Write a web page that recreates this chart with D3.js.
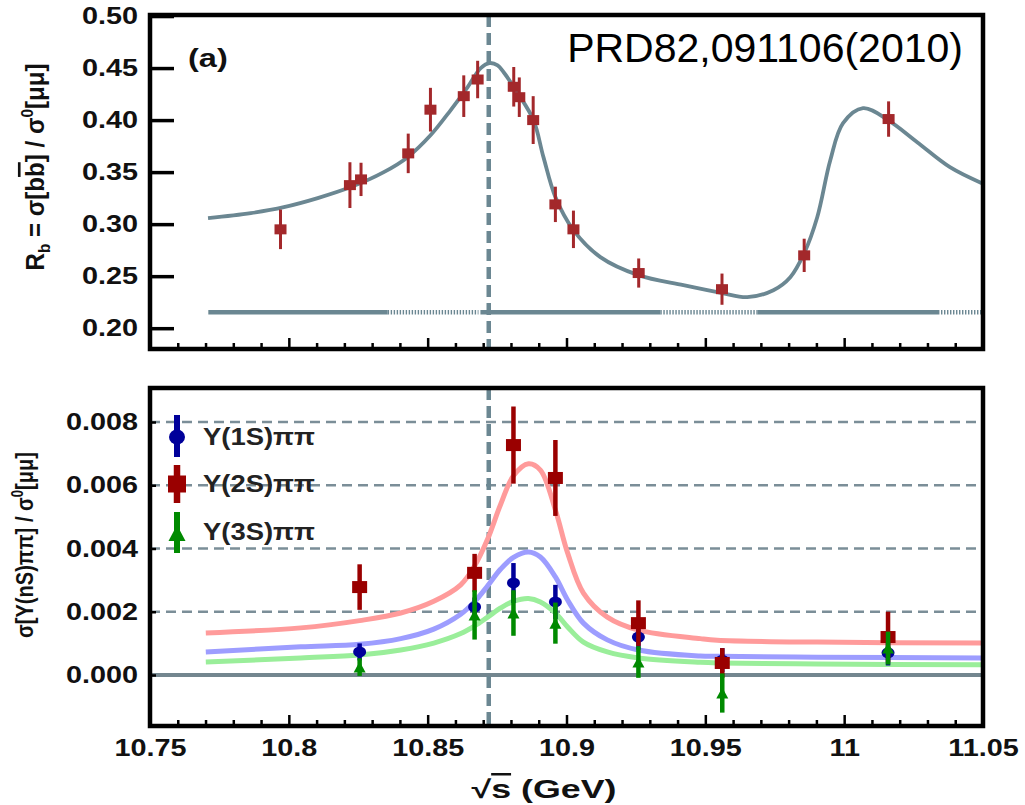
<!DOCTYPE html>
<html>
<head>
<meta charset="utf-8">
<script src="https://cdnjs.cloudflare.com/ajax/libs/d3/7.8.5/d3.min.js"></script>
<style>
  html, body { margin: 0; padding: 0; background: #fff; }
  svg { display: block; }
</style>
</head>
<body>
<svg id="chart" width="1025" height="805"></svg>
<script>
// ---------------- data ----------------
// shared energy axis
const xTickValues = [10.75, 10.8, 10.85, 10.9, 10.95, 11.0, 11.05];
const xTickLabels = ["10.75", "10.8", "10.85", "10.9", "10.95", "11", "11.05"];

// (a) R_b scan
const rbTickValues = [0.20, 0.25, 0.30, 0.35, 0.40, 0.45, 0.50];
const rbTickLabels = ["0.20", "0.25", "0.30", "0.35", "0.40", "0.45", "0.50"];
const rbEnergy = [10.797, 10.822, 10.826, 10.843, 10.851, 10.863, 10.868, 10.881, 10.883, 10.888, 10.896, 10.9025, 10.926, 10.956, 10.9856, 11.016];
const rbValue  = [0.295, 0.3375, 0.343, 0.368, 0.410, 0.423, 0.439, 0.432, 0.422, 0.400, 0.319, 0.295, 0.253, 0.2375, 0.270, 0.401];
const rbError  = [0.019, 0.022, 0.016, 0.019, 0.021, 0.020, 0.018, 0.019, 0.019, 0.023, 0.017, 0.018, 0.014, 0.015, 0.016, 0.017];

// fitted R_b line shape
const rbFitEnergy = [10.7709, 10.7863, 10.7982, 10.8104, 10.8223, 10.8342, 10.8428, 10.8511, 10.8583, 10.8644, 10.8691, 10.8723, 10.8752, 10.8773, 10.8824, 10.8881, 10.8917, 10.8960, 10.9025, 10.9122, 10.9259, 10.9421, 10.9561, 10.9651, 10.9745, 10.9806, 10.9856, 10.9903, 10.9950, 10.9996, 11.0068, 11.0158, 11.0263, 11.0381, 11.0496];
const rbFitValue  = [0.3058, 0.3106, 0.3163, 0.3250, 0.3356, 0.3500, 0.3644, 0.3856, 0.4096, 0.4317, 0.4500, 0.4548, 0.4525, 0.4462, 0.4260, 0.4000, 0.3644, 0.3260, 0.2942, 0.2683, 0.2510, 0.2413, 0.2337, 0.2298, 0.2365, 0.2490, 0.2721, 0.3067, 0.3615, 0.3971, 0.4115, 0.4000, 0.3788, 0.3548, 0.3394];

// continuum level with scanned (solid) and unscanned (dotted) ranges
const scanLevel = 0.2154;
const scanSolid  = [[10.771, 10.8356], [10.869, 10.9338], [10.9687, 11.0338]];
const scanDotted = [[10.8356, 10.8683], [10.9338, 10.9687], [11.0338, 11.05]];

// Y(10860) peak position
const peakEnergy = 10.872;

// (b) Y(nS)pipi cross sections
const ppTickValues = [0.000, 0.002, 0.004, 0.006, 0.008];
const ppTickLabels = ["0.000", "0.002", "0.004", "0.006", "0.008"];
const ppEnergy = [10.8255, 10.8669, 10.8809, 10.8960, 10.9259, 10.9561, 11.0158];
const y1sValue = [0.00073, 0.00215, 0.00291, 0.00231, 0.00120, 0.00047, 0.00070];
const y1sError = [0.00027, 0.00030, 0.00063, 0.00054, 0.00040, 0.00038, 0.00040];
const y2sValue = [0.00278, 0.00323, 0.00727, 0.00623, 0.00164, 0.00038, 0.00120];
const y2sError = [0.00072, 0.00060, 0.00122, 0.00120, 0.00072, 0.00047, 0.00080];
const y3sValue = [0.00025, 0.00190, 0.00196, 0.00164, 0.00041, -0.00057, 0.00085];
const y3sError = [0.00028, 0.00078, 0.00072, 0.00065, 0.00050, 0.00062, 0.00052];

// fitted Y(nS)pipi line shapes
const ppFitEnergy = [10.7701, 10.8043, 10.8255, 10.8403, 10.8522, 10.8619, 10.8669, 10.8716, 10.8763, 10.8809, 10.8863, 10.8906, 10.8960, 10.9004, 10.9061, 10.9147, 10.9259, 10.9482, 10.9543, 10.9903, 11.05];
const y1sFit = [0.00073, 0.00089, 0.00097, 0.00115, 0.00145, 0.00192, 0.00232, 0.00282, 0.00335, 0.00372, 0.00389, 0.00373, 0.00310, 0.00237, 0.00164, 0.00111, 0.00079, 0.00060, 0.00059, 0.00056, 0.00054];
const y2sFit = [0.00133, 0.00149, 0.00172, 0.00196, 0.00233, 0.00285, 0.00345, 0.00430, 0.00540, 0.00630, 0.00668, 0.00648, 0.00522, 0.00386, 0.00259, 0.00183, 0.00142, 0.00115, 0.00110, 0.00104, 0.00101];
const y3sFit = [0.00041, 0.00054, 0.00063, 0.00079, 0.00101, 0.00131, 0.00155, 0.00183, 0.00212, 0.00233, 0.00242, 0.00231, 0.00196, 0.00152, 0.00104, 0.00073, 0.00054, 0.00040, 0.00038, 0.00035, 0.00032];

const legendLabels = ["\u03A5(1S)\u03C0\u03C0", "\u03A5(2S)\u03C0\u03C0", "\u03A5(3S)\u03C0\u03C0"];

// ---------------- layout & style ----------------
const FONT = "'Liberation Sans', Arial, Helvetica, sans-serif";
const SX = 1.2;               // horizontal stretch of the bold labels
const X0 = 150, X1 = 983;
const TOP = { y0: 15, y1: 349 };
const BOT = { y0: 388, y1: 726 };
const SLATE = "#6b8792";

const svg = d3.select("#chart");

const x = d3.scaleLinear().domain([10.75, 11.05]).range([X0, X1]);
const yTop = d3.scaleLinear().domain([0.18, 0.501]).range([TOP.y1, TOP.y0]);
const yBot = d3.scaleLinear().domain([-0.001613, 0.009075]).range([BOT.y1, BOT.y0]);

const minorTicks = d3.range(0, 31).map(i => 10.75 + i * 0.01)
  .filter(v => xTickValues.every(m => Math.abs(m - v) > 1e-6));

// clip regions for each panel
const defs = svg.append("defs");
defs.append("clipPath").attr("id", "clipTop").append("rect")
  .attr("x", X0).attr("y", TOP.y0).attr("width", X1 - X0).attr("height", TOP.y1 - TOP.y0);
defs.append("clipPath").attr("id", "clipBot").append("rect")
  .attr("x", X0).attr("y", BOT.y0).attr("width", X1 - X0).attr("height", BOT.y1 - BOT.y0);

function styleTickText(sel, size) {
  sel.attr("font-family", FONT).attr("font-weight", "bold").attr("font-size", size)
     .attr("fill", "#111").attr("transform", `scale(${SX},1)`);
}

function xTicks(yPos, withLabels) {
  const gMinor = svg.append("g").attr("transform", `translate(0,${yPos})`)
    .call(d3.axisBottom(x).tickValues(minorTicks).tickFormat("").tickSizeInner(-6).tickSizeOuter(0));
  gMinor.select(".domain").remove();
  gMinor.selectAll("line").attr("stroke", "#000").attr("stroke-width", 2.5);
  const gMajor = svg.append("g").attr("transform", `translate(0,${yPos})`)
    .call(d3.axisBottom(x).tickValues(xTickValues)
      .tickFormat((d, i) => withLabels ? xTickLabels[i] : "")
      .tickSizeInner(-11).tickSizeOuter(0).tickPadding(13));
  gMajor.select(".domain").remove();
  gMajor.selectAll("line").attr("stroke", "#000").attr("stroke-width", 2.5);
  styleTickText(gMajor.selectAll("text"), 24);
}

// ================= panel (a) =================
const gTop = svg.append("g").attr("clip-path", "url(#clipTop)");

// continuum level
gTop.selectAll("line.solid").data(scanSolid).join("line").attr("class", "solid")
  .attr("x1", d => x(d[0])).attr("x2", d => x(d[1]))
  .attr("y1", yTop(scanLevel)).attr("y2", yTop(scanLevel))
  .attr("stroke", SLATE).attr("stroke-width", 4.5);
gTop.selectAll("line.dotted").data(scanDotted).join("line").attr("class", "dotted")
  .attr("x1", d => x(d[0])).attr("x2", d => x(d[1]))
  .attr("y1", yTop(scanLevel)).attr("y2", yTop(scanLevel))
  .attr("stroke", SLATE).attr("stroke-width", 4.5).attr("stroke-dasharray", "1.4,1.6");

// fit curve
const rbFit = rbFitEnergy.map((e, i) => [e, rbFitValue[i]]);
gTop.append("path").datum(rbFit)
  .attr("d", d3.line().x(d => x(d[0])).y(d => yTop(d[1])).curve(d3.curveCatmullRom.alpha(0.5)))
  .attr("fill", "none").attr("stroke", SLATE).attr("stroke-width", 3.8);

// peak marker
gTop.append("line")
  .attr("x1", x(peakEnergy)).attr("x2", x(peakEnergy))
  .attr("y1", TOP.y0).attr("y2", TOP.y1)
  .attr("stroke", SLATE).attr("stroke-width", 4.5).attr("stroke-dasharray", "12,6");

// data points
const rbPts = rbEnergy.map((e, i) => ({ e, v: rbValue[i], err: rbError[i] }));
const RB_RED = "#a3282b";
gTop.selectAll("line.err").data(rbPts).join("line").attr("class", "err")
  .attr("x1", d => x(d.e)).attr("x2", d => x(d.e))
  .attr("y1", d => yTop(d.v + d.err)).attr("y2", d => yTop(d.v - d.err))
  .attr("stroke", RB_RED).attr("stroke-width", 3);
gTop.selectAll("rect.pt").data(rbPts).join("rect").attr("class", "pt")
  .attr("x", d => x(d.e) - 6).attr("y", d => yTop(d.v) - 5)
  .attr("width", 12).attr("height", 10).attr("fill", RB_RED);

// axes of (a)
const gyTop = svg.append("g").attr("transform", `translate(${X0},0)`)
  .call(d3.axisLeft(yTop).tickValues(rbTickValues).tickFormat((d, i) => rbTickLabels[i])
    .tickSizeInner(-24).tickSizeOuter(0).tickPadding(10));
gyTop.select(".domain").remove();
gyTop.selectAll("line").attr("stroke", "#000").attr("stroke-width", 3.5);
styleTickText(gyTop.selectAll("text"), 24);
xTicks(TOP.y1, false);

svg.append("rect").attr("x", X0).attr("y", TOP.y0)
  .attr("width", X1 - X0).attr("height", TOP.y1 - TOP.y0)
  .attr("fill", "none").attr("stroke", "#000").attr("stroke-width", 4.5);

svg.append("text").attr("transform", `translate(188,67) scale(1.3,1)`)
  .attr("font-family", FONT).attr("font-weight", "bold").attr("font-size", 25)
  .attr("fill", "#111").text("(a)");

svg.append("text").attr("x", 963).attr("y", 62).attr("text-anchor", "end")
  .attr("font-family", FONT).attr("font-size", 41).attr("fill", "#000")
  .text("PRD82,091106(2010)");

// y title of (a)
const tTop = svg.append("text")
  .attr("transform", `translate(44,167) scale(${SX},1) rotate(-90)`)
  .attr("text-anchor", "middle").attr("font-family", FONT).attr("font-weight", "bold")
  .attr("font-size", 22).attr("fill", "#111")
  .attr("textLength", 207).attr("lengthAdjust", "spacingAndGlyphs");
tTop.append("tspan").text("R");
tTop.append("tspan").attr("font-size", 14).attr("dy", 5).text("b");
tTop.append("tspan").attr("dy", -5).text(" = \u03C3[b");
tTop.append("tspan").style("text-decoration", "overline").text("b");
tTop.append("tspan").text("] / \u03C3");
tTop.append("tspan").attr("font-size", 14).attr("dy", -9).text("0");
tTop.append("tspan").attr("dy", 9).text("[\u03BC\u03BC]");

// ================= panel (b) =================
const gBot = svg.append("g").attr("clip-path", "url(#clipBot)");

// dashed grid
gBot.selectAll("line.grid").data(ppTickValues.filter(v => v > 0)).join("line").attr("class", "grid")
  .attr("x1", X0).attr("x2", X1)
  .attr("y1", d => yBot(d)).attr("y2", d => yBot(d))
  .attr("stroke", "#7b8e98").attr("stroke-width", 2.3).attr("stroke-dasharray", "10,6");

// zero line
gBot.append("line").attr("x1", X0).attr("x2", X1)
  .attr("y1", yBot(0)).attr("y2", yBot(0))
  .attr("stroke", "#73868f").attr("stroke-width", 4);

// peak marker
gBot.append("line")
  .attr("x1", x(peakEnergy)).attr("x2", x(peakEnergy))
  .attr("y1", BOT.y0).attr("y2", BOT.y1)
  .attr("stroke", SLATE).attr("stroke-width", 4.5).attr("stroke-dasharray", "12,6");

// fit curves
const fitLine = d3.line().x(d => x(d[0])).y(d => yBot(d[1])).curve(d3.curveCatmullRom.alpha(0.5));
const fits = [
  { vals: y2sFit, color: "#ff9b9b" },
  { vals: y1sFit, color: "#9d9dff" },
  { vals: y3sFit, color: "#9aee9a" }
];
fits.forEach(f => {
  gBot.append("path").datum(ppFitEnergy.map((e, i) => [e, f.vals[i]]))
    .attr("d", fitLine).attr("fill", "none")
    .attr("stroke", f.color).attr("stroke-width", 5);
});

// data points
const C1 = "#00009a", C2 = "#9a0000", C3 = "#008a00";
function series(vals, errs) { return ppEnergy.map((e, i) => ({ e, v: vals[i], err: errs[i] })); }
function errBars(data, color, w) {
  gBot.append("g").selectAll("line").data(data).join("line")
    .attr("x1", d => x(d.e)).attr("x2", d => x(d.e))
    .attr("y1", d => yBot(d.v + d.err)).attr("y2", d => yBot(d.v - d.err))
    .attr("stroke", color).attr("stroke-width", w);
}
const s1 = series(y1sValue, y1sError);
const s2 = series(y2sValue, y2sError);
const s3 = series(y3sValue, y3sError);

errBars(s1, C1, 4.5);
gBot.append("g").selectAll("ellipse").data(s1).join("ellipse")
  .attr("cx", d => x(d.e)).attr("cy", d => yBot(d.v)).attr("rx", 6.5).attr("ry", 5.5).attr("fill", C1);

errBars(s2, C2, 4.5);
gBot.append("g").selectAll("rect").data(s2).join("rect")
  .attr("x", d => x(d.e) - 7.5).attr("y", d => yBot(d.v) - 6)
  .attr("width", 15).attr("height", 12).attr("fill", C2);

errBars(s3, C3, 4.5);
const tri = (cx, cy, w, h) => `M${cx},${cy - h / 2}L${cx + w / 2},${cy + h / 2}L${cx - w / 2},${cy + h / 2}Z`;
gBot.append("g").selectAll("path").data(s3).join("path")
  .attr("d", d => tri(x(d.e), yBot(d.v), 12, 11)).attr("fill", C3);

// legend
const legendY = [437, 484, 532];
const lx = 177;
svg.append("line").attr("x1", lx).attr("x2", lx).attr("y1", legendY[0] - 22).attr("y2", legendY[0] + 20)
  .attr("stroke", C1).attr("stroke-width", 6);
svg.append("ellipse").attr("cx", lx).attr("cy", legendY[0]).attr("rx", 8).attr("ry", 7.5).attr("fill", C1);
svg.append("line").attr("x1", lx).attr("x2", lx).attr("y1", legendY[1] - 19).attr("y2", legendY[1] + 19)
  .attr("stroke", C2).attr("stroke-width", 6.5);
svg.append("rect").attr("x", lx - 9).attr("y", legendY[1] - 8.5).attr("width", 18).attr("height", 17).attr("fill", C2);
svg.append("line").attr("x1", lx).attr("x2", lx).attr("y1", legendY[2] - 20).attr("y2", legendY[2] + 21)
  .attr("stroke", C3).attr("stroke-width", 6);
svg.append("path").attr("d", tri(lx, legendY[2] + 1, 17, 16)).attr("fill", C3);

legendLabels.forEach((t, i) => {
  svg.append("text").attr("x", 203).attr("y", legendY[i] + 8)
    .attr("font-family", FONT).attr("font-weight", "bold").attr("font-size", 23)
    .attr("fill", "#222").attr("textLength", 112).attr("lengthAdjust", "spacingAndGlyphs")
    .text(t);
});

// axes of (b)
const gyBot = svg.append("g").attr("transform", `translate(${X0},0)`)
  .call(d3.axisLeft(yBot).tickValues(ppTickValues).tickFormat((d, i) => ppTickLabels[i])
    .tickSizeInner(-6).tickSizeOuter(0).tickPadding(10));
gyBot.select(".domain").remove();
gyBot.selectAll("line").attr("stroke", "#000").attr("stroke-width", 2.5);
styleTickText(gyBot.selectAll("text"), 24);
xTicks(BOT.y1, true);

svg.append("rect").attr("x", X0).attr("y", BOT.y0)
  .attr("width", X1 - X0).attr("height", BOT.y1 - BOT.y0)
  .attr("fill", "none").attr("stroke", "#000").attr("stroke-width", 4.5);

// y title of (b)
const tBot = svg.append("text")
  .attr("transform", `translate(33,545) scale(${SX},1) rotate(-90)`)
  .attr("text-anchor", "middle").attr("font-family", FONT).attr("font-weight", "bold")
  .attr("font-size", 20).attr("fill", "#111")
  .attr("textLength", 186).attr("lengthAdjust", "spacingAndGlyphs");
tBot.append("tspan").text("\u03C3[\u03A5(nS)\u03C0\u03C0] / \u03C3");
tBot.append("tspan").attr("font-size", 13).attr("dy", -8).text("0");
tBot.append("tspan").attr("dy", 8).text("[\u03BC\u03BC]");

// x title
const tX = svg.append("text").attr("x", 544).attr("y", 798).attr("text-anchor", "middle")
  .attr("font-family", FONT).attr("font-weight", "bold").attr("font-size", 25).attr("fill", "#111")
  .attr("textLength", 145).attr("lengthAdjust", "spacingAndGlyphs");
tX.append("tspan").text("\u221A");
tX.append("tspan").style("text-decoration", "overline").text("s");
tX.append("tspan").text(" (GeV)");
</script>
</body>
</html>
